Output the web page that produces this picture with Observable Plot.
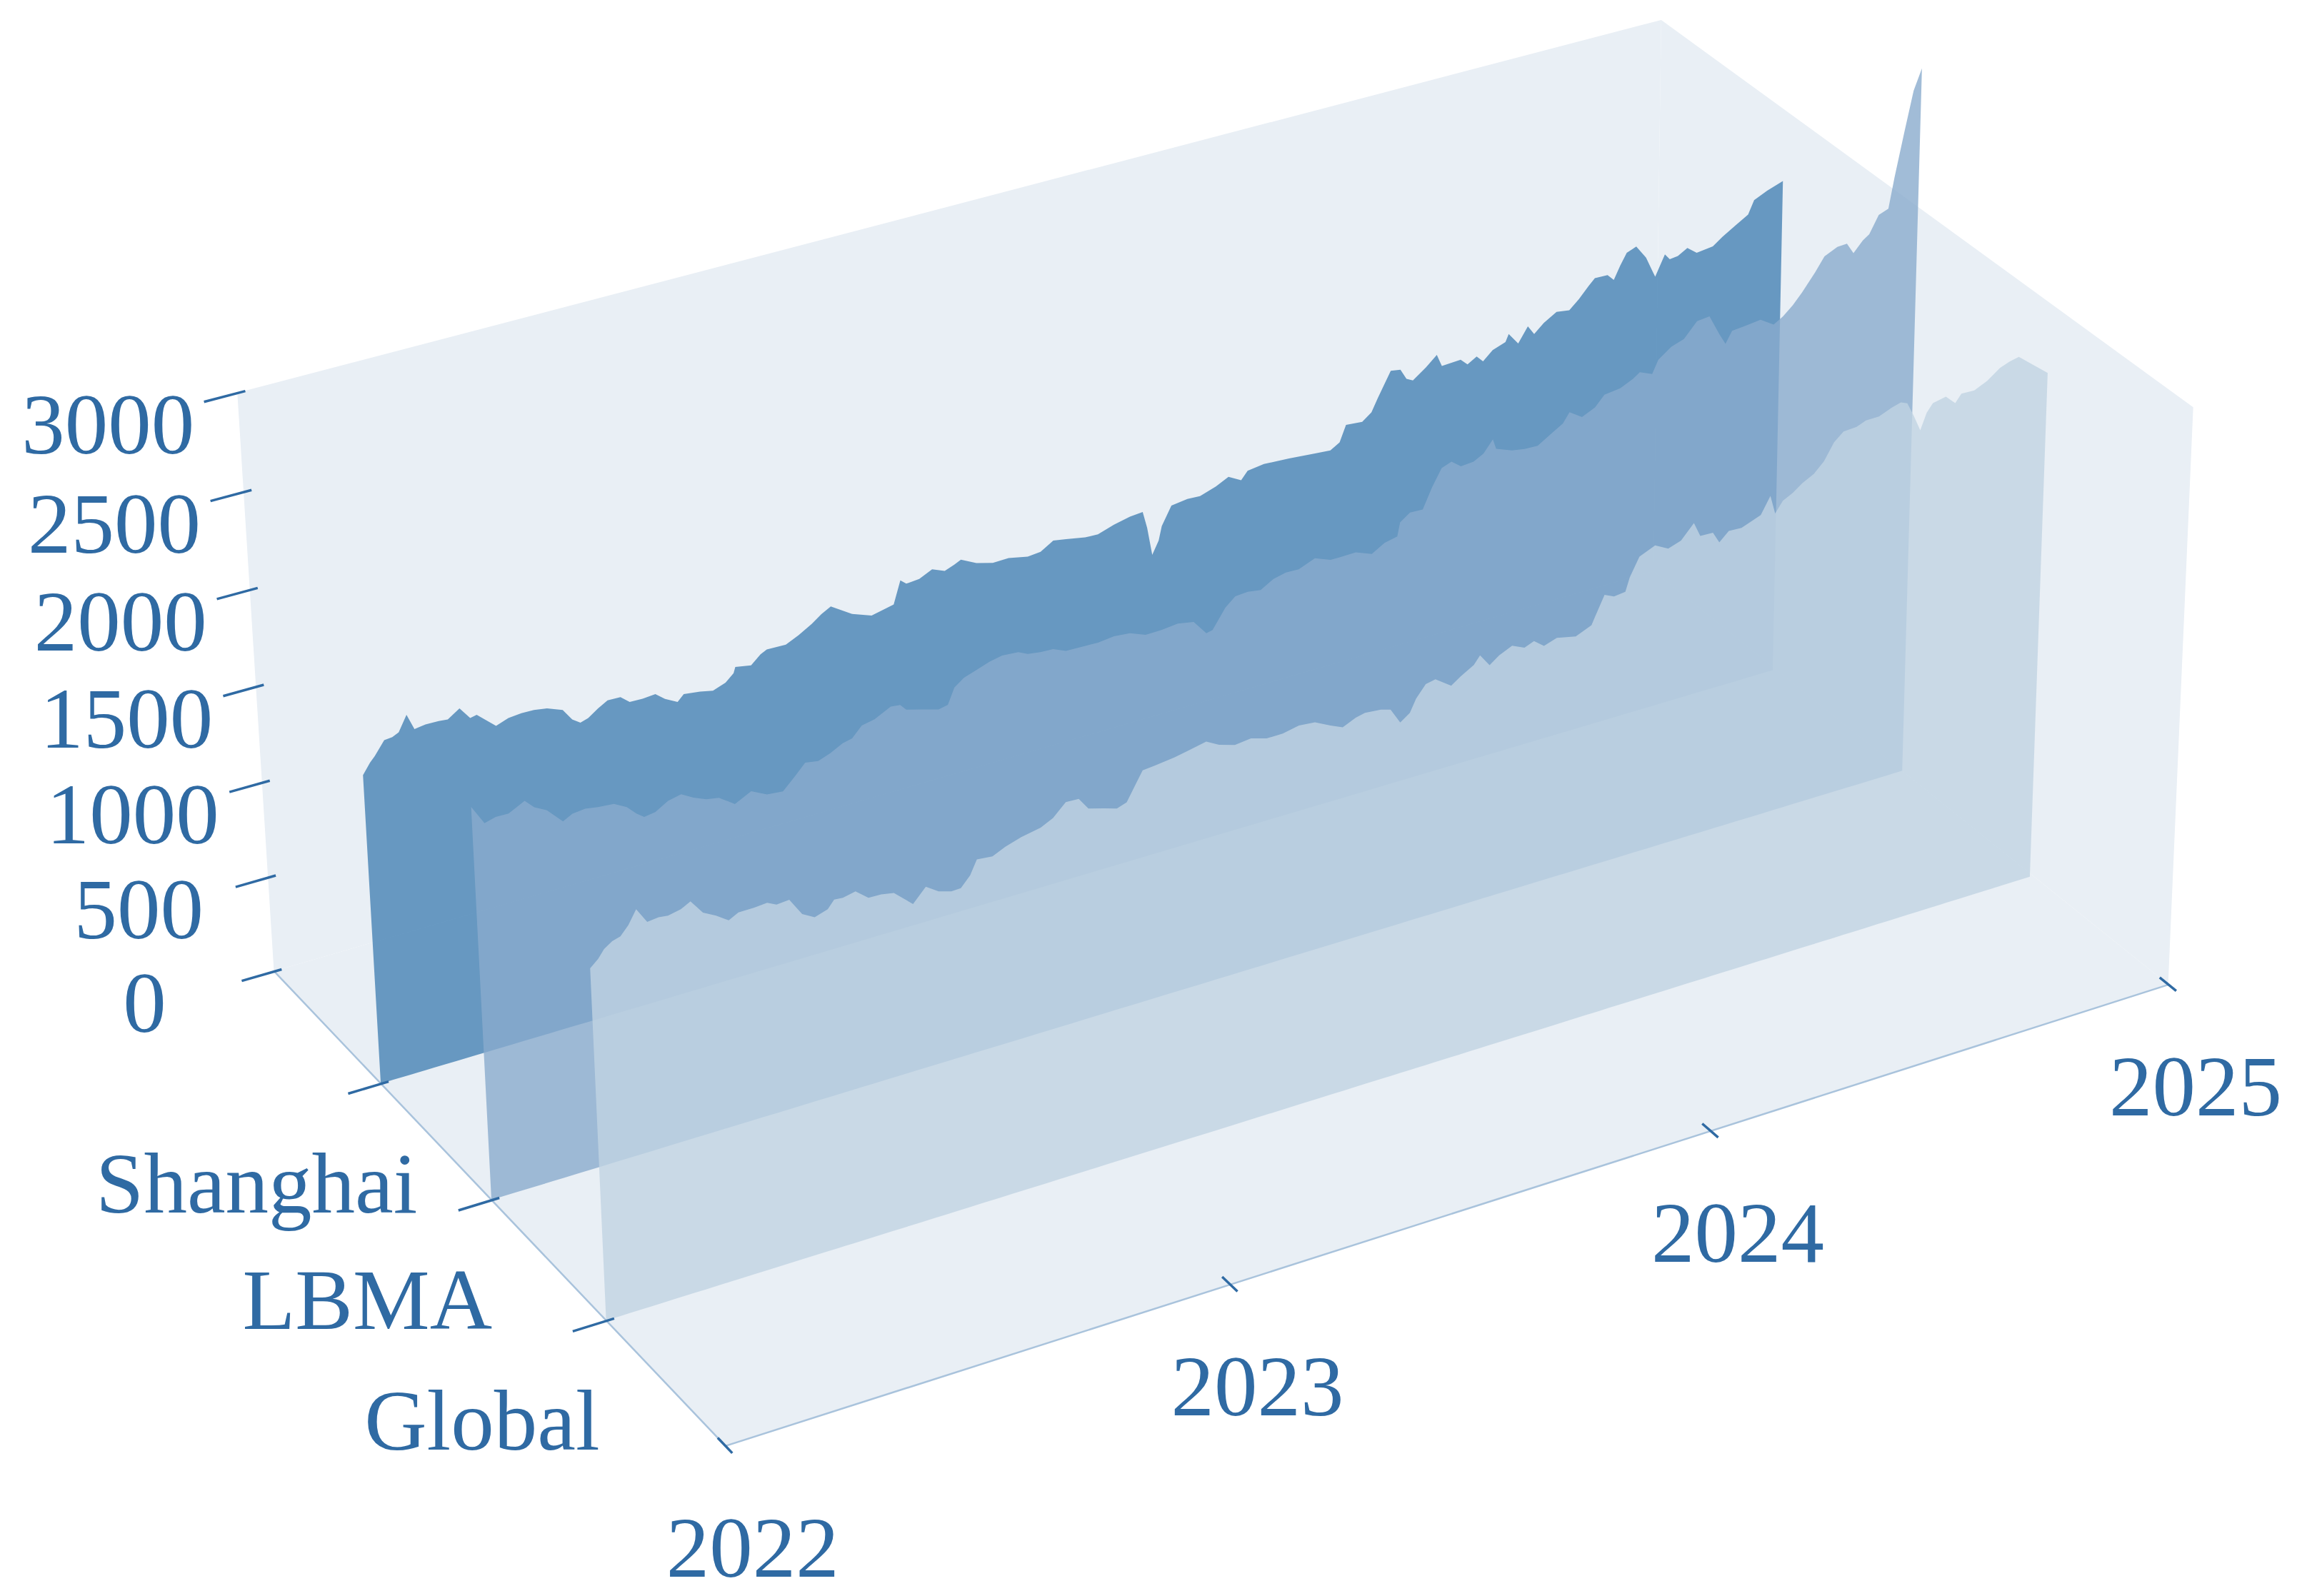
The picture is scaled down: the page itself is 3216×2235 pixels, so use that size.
<!DOCTYPE html>
<html>
<head>
<meta charset="utf-8">
<script src="https://cdn.jsdelivr.net/npm/d3@7"></script>
<script src="https://cdn.jsdelivr.net/npm/@observablehq/plot@0.6"></script>
<style>
  html, body { margin: 0; padding: 0; background: #ffffff; }
  #chart svg { display: block; }
</style>
</head>
<body>
<div id="chart"></div>
<script>
// ---------------- data ----------------
const markets = ["Shanghai", "LBMA", "Global"];
const yearTicks = [2022, 2023, 2024, 2025];
const priceTicks = [0, 500, 1000, 1500, 2000, 2500, 3000];

const shanghaiDates = [2022.000,2022.015,2022.025,2022.045,2022.061,2022.074,2022.091,2022.105,2022.127,2022.153,2022.171,2022.195,2022.215,2022.228,2022.265,2022.290,2022.316,2022.341,2022.367,2022.398,2022.416,2022.432,2022.448,2022.468,2022.488,2022.514,2022.532,2022.558,2022.584,2022.603,2022.628,2022.641,2022.674,2022.700,2022.726,2022.743,2022.747,2022.779,2022.799,2022.812,2022.851,2022.878,2022.905,2022.925,2022.945,2022.988,2023.028,2023.054,2023.074,2023.089,2023.101,2023.128,2023.155,2023.181,2023.201,2023.215,2023.247,2023.281,2023.314,2023.354,2023.381,2023.408,2023.435,2023.475,2023.502,2023.536,2023.570,2023.597,2023.606,2023.616,2023.630,2023.637,2023.658,2023.692,2023.719,2023.753,2023.780,2023.807,2023.821,2023.856,2023.910,2023.964,2023.999,2024.019,2024.033,2024.068,2024.088,2024.102,2024.130,2024.151,2024.164,2024.178,2024.206,2024.230,2024.241,2024.262,2024.282,2024.297,2024.317,2024.331,2024.352,2024.380,2024.387,2024.408,2024.429,2024.443,2024.464,2024.492,2024.520,2024.541,2024.562,2024.576,2024.604,2024.618,2024.632,2024.646,2024.667,2024.689,2024.703,2024.710,2024.731,2024.742,2024.760,2024.781,2024.802,2024.838,2024.859,2024.887,2024.916,2024.929,2024.958,2024.993];
const shanghaiPrices = [1605,1658,1684,1751,1755,1770,1847,1764,1772,1770,1765,1805,1741,1748,1665,1687,1693,1691,1681,1650,1588,1560,1573,1607,1635,1633,1595,1593,1598,1560,1526,1557,1546,1532,1555,1592,1622,1607,1650,1666,1663,1694,1732,1768,1795,1725,1689,1703,1714,1828,1803,1809,1840,1813,1832,1848,1808,1785,1787,1767,1773,1813,1802,1783,1781,1807,1826,1832,1742,1594,1659,1730,1823,1834,1831,1858,1890,1854,1894,1905,1898,1886,1879,1908,1990,1983,2019,2085,2209,2200,2144,2126,2175,2225,2160,2163,2166,2131,2159,2125,2170,2193,2231,2167,2244,2194,2238,2278,2268,2313,2367,2400,2398,2364,2430,2488,2507,2435,2358,2321,2424,2392,2397,2426,2387,2397,2434,2474,2515,2582,2614,2642];

const lbmaDates = [2022.000,2022.024,2022.046,2022.071,2022.103,2022.121,2022.145,2022.175,2022.194,2022.219,2022.244,2022.275,2022.300,2022.318,2022.333,2022.355,2022.381,2022.407,2022.431,2022.456,2022.481,2022.512,2022.545,2022.576,2022.608,2022.634,2022.654,2022.680,2022.705,2022.730,2022.749,2022.769,2022.795,2022.828,2022.847,2022.859,2022.892,2022.924,2022.943,2022.957,2022.977,2023.003,2023.029,2023.055,2023.088,2023.107,2023.133,2023.159,2023.185,2023.225,2023.251,2023.284,2023.317,2023.349,2023.382,2023.416,2023.449,2023.475,2023.488,2023.515,2023.536,2023.562,2023.589,2023.616,2023.642,2023.669,2023.703,2023.736,2023.755,2023.789,2023.823,2023.850,2023.877,2023.883,2023.904,2023.931,2023.951,2023.971,2023.992,2024.012,2024.039,2024.060,2024.080,2024.087,2024.121,2024.148,2024.176,2024.203,2024.230,2024.244,2024.271,2024.299,2024.319,2024.353,2024.381,2024.395,2024.422,2024.435,2024.463,2024.490,2024.518,2024.545,2024.567,2024.581,2024.595,2024.623,2024.657,2024.686,2024.706,2024.727,2024.747,2024.775,2024.795,2024.823,2024.844,2024.859,2024.879,2024.893,2024.913,2024.934,2024.946,2024.965,2024.983,2025.000];
const lbmaPrices = [2013,1914,1929,1927,1967,1922,1889,1811,1836,1842,1832,1825,1791,1745,1717,1725,1763,1777,1742,1716,1705,1650,1691,1652,1644,1706,1757,1746,1769,1801,1811,1862,1875,1916,1911,1878,1855,1832,1842,1921,1956,1978,2000,2014,2007,1985,1975,1972,1945,1942,1940,1949,1942,1911,1912,1921,1906,1830,1837,1933,1977,1982,1972,2010,2025,2023,2056,2025,2024,2026,1994,2033,2047,2116,2152,2149,2251,2335,2354,2316,2322,2349,2409,2355,2324,2313,2311,2350,2389,2438,2395,2426,2478,2488,2519,2543,2516,2581,2629,2651,2724,2731,2626,2566,2624,2630,2640,2596,2625,2668,2721,2807,2877,2908,2911,2852,2905,2928,3014,3033,3189,3407,3606,3709];

const globalDates = [2022.000,2022.016,2022.028,2022.044,2022.060,2022.076,2022.092,2022.112,2022.134,2022.152,2022.177,2022.196,2022.219,2022.244,2022.268,2022.287,2022.318,2022.343,2022.361,2022.386,2022.410,2022.434,2022.460,2022.473,2022.490,2022.515,2022.540,2022.565,2022.590,2022.627,2022.653,2022.678,2022.703,2022.722,2022.741,2022.755,2022.786,2022.812,2022.844,2022.883,2022.908,2022.934,2022.960,2022.979,2023.011,2023.036,2023.056,2023.076,2023.089,2023.114,2023.153,2023.179,2023.218,2023.244,2023.276,2023.309,2023.341,2023.374,2023.407,2023.440,2023.472,2023.497,2023.524,2023.543,2023.576,2023.596,2023.616,2023.636,2023.649,2023.669,2023.689,2023.722,2023.742,2023.769,2023.782,2023.802,2023.822,2023.849,2023.875,2023.895,2023.916,2023.943,2023.983,2024.016,2024.023,2024.043,2024.063,2024.087,2024.096,2024.116,2024.149,2024.177,2024.204,2024.231,2024.245,2024.272,2024.286,2024.306,2024.333,2024.353,2024.374,2024.394,2024.405,2024.421,2024.442,2024.462,2024.487,2024.508,2024.529,2024.549,2024.577,2024.597,2024.625,2024.652,2024.672,2024.686,2024.701,2024.716,2024.729,2024.742,2024.770,2024.791,2024.804,2024.832,2024.860,2024.887,2024.908,2024.928,2024.993];
const globalPrices = [1788,1823,1862,1889,1901,1945,2011,1933,1940,1934,1947,1972,1899,1865,1823,1848,1849,1854,1832,1837,1747,1713,1734,1772,1769,1782,1731,1729,1718,1634,1702,1660,1641,1643,1693,1763,1755,1785,1809,1828,1858,1919,1916,1854,1831,1812,1829,1912,1966,1972,1984,1997,2017,1982,1958,1967,1944,1944,1961,1954,1914,1887,1917,1927,1920,1906,1826,1860,1924,1983,1993,1937,1971,2009,2049,1985,2020,2050,2022,2041,2002,2024,2003,2037,2073,2173,2151,2158,2225,2317,2351,2315,2338,2408,2333,2331,2272,2316,2313,2331,2350,2434,2337,2391,2417,2452,2484,2533,2616,2657,2662,2681,2683,2709,2723,2709,2634,2551,2632,2672,2686,2639,2679,2677,2707,2755,2774,2784,2659];

// ---------------- scene / camera ----------------
const W = 3216, H = 2235;
const timeDomain = [2022, 2025];
const priceDomain = [0, 3000];
const depthDomain = [-1, 3];            // category index range (Shanghai = 0 ... Global = 2)
// perspective camera as a projection matrix (unit box -> pixels of a 1568-wide frame)
const camera = {
  ex: [1097.7, -263.8, 0.07612],
  ey: [-294.1, -274.6, 0.07441],
  ez: [-32.34, -433.4, -0.0339],
  o:  [495, 987, 1],
  k:  W / 1568
};
function project(u, w, h) {
  const c = camera;
  const px = c.ex[0]*u + c.ey[0]*w + c.ez[0]*h + c.o[0];
  const py = c.ex[1]*u + c.ey[1]*w + c.ez[1]*h + c.o[1];
  const pw = c.ex[2]*u + c.ey[2]*w + c.ez[2]*h + c.o[2];
  return [px / pw * c.k, py / pw * c.k];
}
const U = t => (t - timeDomain[0]) / (timeDomain[1] - timeDomain[0]);
const Zs = v => (v - priceDomain[0]) / (priceDomain[1] - priceDomain[0]);
const D = i => (depthDomain[1] - i) / (depthDomain[1] - depthDomain[0]); // 1 = back, 0 = front

const colors = {Shanghai: "#4682b4", LBMA: "#8aabcd", Global: "#c1d3e2"};
const wallColor = "#e9eff5";
const axisLineColor = "#a9c3dc";
const inkColor = "#2f6aa3";
const font = "'Liberation Serif', 'Times New Roman', serif";

const seriesList = [
  {name: "Shanghai", dates: shanghaiDates, prices: shanghaiPrices},
  {name: "LBMA", dates: lbmaDates, prices: lbmaPrices},
  {name: "Global", dates: globalDates, prices: globalPrices}
];

const px = p => p[0], py = p => p[1];

const marks = [];
// walls: back (depth=1), right (time=1), floor (price=0)
marks.push(Plot.area([0, 1], {
  x1: u => px(project(u, 1, 1)), y1: u => py(project(u, 1, 1)),
  x2: u => px(project(u, 1, 0)), y2: u => py(project(u, 1, 0)),
  fill: wallColor
}));
marks.push(Plot.area([0, 1], {
  x1: w => px(project(1, w, 1)), y1: w => py(project(1, w, 1)),
  x2: w => px(project(1, w, 0)), y2: w => py(project(1, w, 0)),
  fill: wallColor
}));
marks.push(Plot.area([0, 1], {
  x1: u => px(project(u, 0, 0)), y1: u => py(project(u, 0, 0)),
  x2: u => px(project(u, 1, 0)), y2: u => py(project(u, 1, 0)),
  fill: wallColor
}));

// axis lines (time along the front floor edge, market along the left floor edge)
const axisLines = [
  {a: [0, 0, 0], b: [1, 0, 0]},
  {a: [0, 0, 0], b: [0, 1, 0]}
];
marks.push(Plot.link(axisLines, {
  x1: d => px(project(...d.a)), y1: d => py(project(...d.a)),
  x2: d => px(project(...d.b)), y2: d => py(project(...d.b)),
  stroke: axisLineColor, strokeWidth: 2.5
}));

// series planes, back to front
seriesList.forEach((s, i) => {
  const rows = s.dates.map((t, j) => ({t, v: s.prices[j]}));
  const w = D(i);
  marks.push(Plot.area(rows, {
    x1: d => px(project(U(d.t), w, Zs(d.v))), y1: d => py(project(U(d.t), w, Zs(d.v))),
    x2: d => px(project(U(d.t), w, 0)), y2: d => py(project(U(d.t), w, 0)),
    fill: colors[s.name], fillOpacity: 0.8, curve: "linear"
  }));
});

// ticks
marks.push(Plot.link(priceTicks, {
  x1: v => px(project(0.005, 1, Zs(v))), y1: v => py(project(0.005, 1, Zs(v))),
  x2: v => px(project(-0.022, 1, Zs(v))), y2: v => py(project(-0.022, 1, Zs(v))),
  stroke: inkColor, strokeWidth: 3.5
}));
marks.push(Plot.link(markets, {
  x1: (m, i) => px(project(0.005, D(i), 0)), y1: (m, i) => py(project(0.005, D(i), 0)),
  x2: (m, i) => px(project(-0.022, D(i), 0)), y2: (m, i) => py(project(-0.022, D(i), 0)),
  stroke: inkColor, strokeWidth: 3.5
}));
marks.push(Plot.link(yearTicks, {
  x1: t => px(project(U(t), 0.016, 0)), y1: t => py(project(U(t), 0.016, 0)),
  x2: t => px(project(U(t), -0.014, 0)), y2: t => py(project(U(t), -0.014, 0)),
  stroke: inkColor, strokeWidth: 3.5
}));

// tick labels
const k = camera.k;
marks.push(Plot.text(priceTicks, {
  x: v => px(project(0, 1, Zs(v))), y: v => py(project(0, 1, Zs(v))),
  text: v => String(v), dx: -88.5 * k, dy: 22.5 * k,
  fill: inkColor, fontSize: 121, fontFamily: font, textAnchor: "middle"
}));
marks.push(Plot.text(markets, {
  x: (m, i) => px(project(0, D(i), 0)), y: (m, i) => py(project(0, D(i), 0)),
  text: m => m, dx: -85 * k, dy: 69 * k,
  fill: inkColor, fontSize: 121, fontFamily: font, textAnchor: "middle"
}));
marks.push(Plot.text(yearTicks, {
  x: t => px(project(U(t), 0, 0)), y: t => py(project(U(t), 0, 0)),
  text: t => String(t), dx: 18.5 * k, dy: 70.5 * k,
  fill: inkColor, fontSize: 121, fontFamily: font, textAnchor: "middle"
}));

const chart = Plot.plot({
  width: W, height: H, margin: 0,
  x: {domain: [0, W], range: [0, W], axis: null},
  y: {domain: [0, H], range: [0, H], axis: null},
  style: {background: "#ffffff", overflow: "visible"},
  marks
});
document.getElementById("chart").appendChild(chart);
</script>
</body>
</html>
